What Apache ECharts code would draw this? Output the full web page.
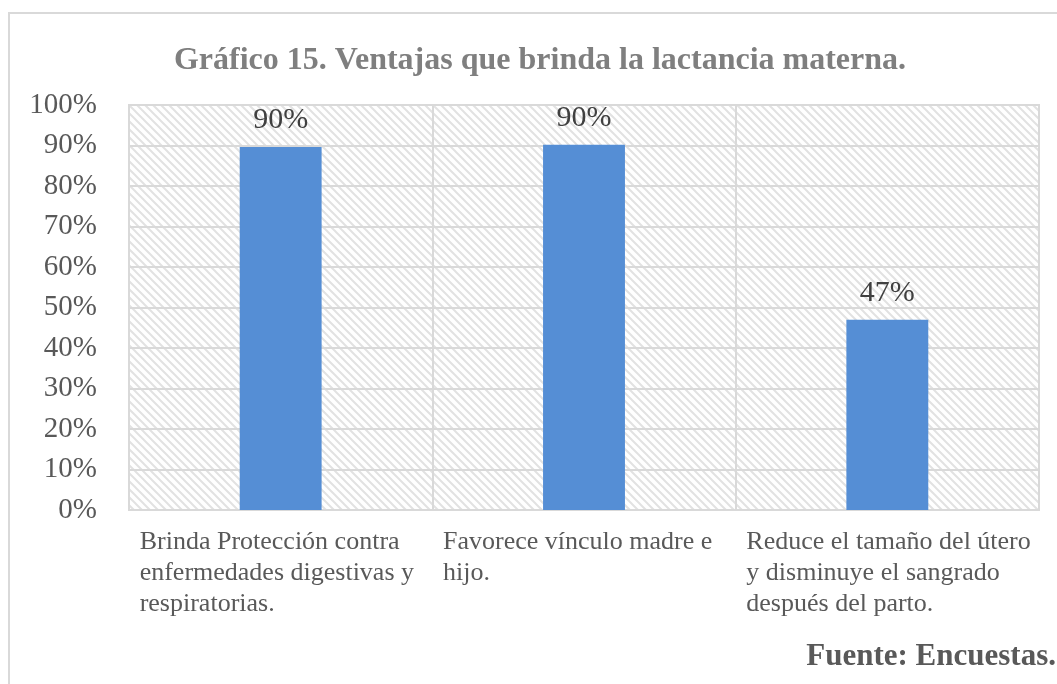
<!DOCTYPE html>
<html lang="es">
<head>
    <meta charset="UTF-8">
    <title>Gráfico 15</title>
    <script src="https://cdn.jsdelivr.net/npm/echarts@6/dist/echarts.min.js"></script>
    <style>
        *{ margin:0; padding:0; }
        body{ background:#fff; }
        #main{ width:1057px; height:684px; }
    </style>
</head>
<body>
<div id="main"></div>
<script>
    var titulo = 'Gráfico 15. Ventajas que brinda la lactancia materna.';
    var fuente = 'Fuente: Encuestas.';
    var categorias = [
        'Brinda Protección contra\nenfermedades digestivas y\nrespiratorias.',
        'Favorece vínculo madre e\nhijo.',
        'Reduce el tamaño del útero\ny disminuye el sangrado\ndespués del parto.'
    ];
    var valores = [89.6, 90.2, 47.0];
    var ejeMin = 0, ejeMax = 100, ejePaso = 10;

    // trama diagonal del fondo
    function trama(){
        var c = document.createElement('canvas');
        c.width = 8; c.height = 8;
        var g = c.getContext('2d');
        g.fillStyle = '#fff';
        g.fillRect(0, 0, 8, 8);
        g.strokeStyle = '#e2e2e2';
        g.lineWidth = 2;
        g.beginPath();
        g.moveTo(-2, -2); g.lineTo(10, 10);
        g.moveTo(-2, 6); g.lineTo(2, 10);
        g.moveTo(6, -2); g.lineTo(10, 2);
        g.stroke();
        return c;
    }

    var serif = '"Liberation Serif", "Times New Roman", serif';
    var gris = '#d9d9d9';

    var app = echarts.init(document.getElementById('main'));

    var option = {
        animation: false,
        graphic: [
            {
                type: 'rect',
                shape: { x: 9, y: 13, width: 1080, height: 700 },
                style: { fill: null, stroke: gris, lineWidth: 2 },
                z: -10
            },
            {
                type: 'text',
                right: 1,
                top: 641,
                style: { text: fuente, font: 'bold 31px ' + serif, fill: '#595959' }
            }
        ],
        title: {
            text: titulo,
            left: 535,
            textAlign: 'center',
            top: 40,
            textStyle: { fontFamily: serif, fontWeight: 'bold', fontSize: 32, color: '#7f7f7f' }
        },
        grid: {
            left: 129, right: 18, top: 105, bottom: 174,
            show: true,
            backgroundColor: { image: trama(), repeat: 'repeat' },
            borderColor: gris,
            borderWidth: 2
        },
        xAxis: {
            type: 'category',
            data: categorias,
            axisLine: { show: true, lineStyle: { color: gris, width: 2 } },
            axisTick: { show: false },
            splitLine: { show: true, lineStyle: { color: gris, width: 2 } },
            axisLabel: {
                interval: 0,
                margin: 17,
                width: 282,
                align: 'center',
                formatter: function (v) { return '{a|' + v + '}'; },
                rich: {
                    a: { align: 'left', fontFamily: serif, fontSize: 26, lineHeight: 31, color: '#595959' }
                }
            }
        },
        yAxis: {
            type: 'value',
            min: ejeMin, max: ejeMax, interval: ejePaso,
            axisLine: { show: false },
            axisTick: { show: false },
            splitLine: { lineStyle: { color: gris, width: 2 } },
            axisLabel: {
                margin: 32,
                formatter: '{value}%',
                fontFamily: serif, fontSize: 29, color: '#595959'
            }
        },
        series: [{
            type: 'bar',
            data: valores,
            barWidth: '27%',
            itemStyle: { color: '#558ed5' },
            label: {
                show: true,
                position: 'top',
                distance: 12,
                formatter: function (p) { return Math.round(p.value) + '%'; },
                fontFamily: serif, fontSize: 30, color: '#404040'
            }
        }]
    };

    app.setOption(option);
</script>
</body>
</html>
